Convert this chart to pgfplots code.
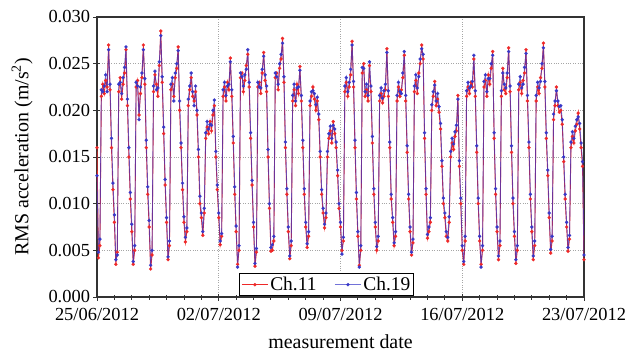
\documentclass[border=0pt]{standalone}
\usepackage{pgfplots}
\usepackage{pgfplotstable}
\pgfplotsset{compat=1.18}
\usepackage{fontspec}
\setmainfont{Liberation Serif}
\definecolor{chred}{RGB}{238,40,40}
\definecolor{chblue}{RGB}{55,55,200}
\pgfplotstableread{
h r b
0 0.0160 0.0130
2 0.0042 0.0048
4 0.0055 0.0062
6 0.0215 0.0222
8 0.0228 0.0220
10 0.0218 0.0226
12 0.0232 0.0238
14 0.0225 0.0220
16 0.0270 0.0265
18 0.0222 0.0228
20 0.0160 0.0170
22 0.0115 0.0122
24 0.0080 0.0088
26 0.0035 0.0040
28 0.0048 0.0045
30 0.0220 0.0228
32 0.0235 0.0230
34 0.0212 0.0218
36 0.0228 0.0235
38 0.0240 0.0246
40 0.0265 0.0268
42 0.0205 0.0212
44 0.0150 0.0160
46 0.0105 0.0112
48 0.0070 0.0078
50 0.0035 0.0038
52 0.0050 0.0055
54 0.0225 0.0230
56 0.0232 0.0226
58 0.0195 0.0190
60 0.0218 0.0225
62 0.0235 0.0240
64 0.0270 0.0265
66 0.0228 0.0234
68 0.0160 0.0168
70 0.0110 0.0118
72 0.0075 0.0082
74 0.0030 0.0034
76 0.0045 0.0050
78 0.0220 0.0226
80 0.0238 0.0242
82 0.0228 0.0222
84 0.0215 0.0224
86 0.0248 0.0252
88 0.0285 0.0280
90 0.0230 0.0236
92 0.0175 0.0182
94 0.0120 0.0126
96 0.0080 0.0085
98 0.0040 0.0043
100 0.0055 0.0060
102 0.0222 0.0228
104 0.0228 0.0235
106 0.0215 0.0210
108 0.0235 0.0240
110 0.0245 0.0250
112 0.0268 0.0264
114 0.0200 0.0210
116 0.0160 0.0165
118 0.0115 0.0122
120 0.0080 0.0086
122 0.0059 0.0064
124 0.0070 0.0074
126 0.0205 0.0212
128 0.0222 0.0226
130 0.0235 0.0240
132 0.0215 0.0220
134 0.0210 0.0205
136 0.0220 0.0226
138 0.0195 0.0200
140 0.0150 0.0158
142 0.0100 0.0108
144 0.0085 0.0090
146 0.0066 0.0070
148 0.0090 0.0095
150 0.0170 0.0176
152 0.0182 0.0188
154 0.0175 0.0180
156 0.0188 0.0185
158 0.0178 0.0184
160 0.0195 0.0200
162 0.0205 0.0211
164 0.0150 0.0156
166 0.0115 0.0120
168 0.0085 0.0090
170 0.0056 0.0060
172 0.0065 0.0068
174 0.0215 0.0222
176 0.0225 0.0230
178 0.0210 0.0216
180 0.0230 0.0226
182 0.0222 0.0228
184 0.0256 0.0252
186 0.0215 0.0222
188 0.0165 0.0172
190 0.0110 0.0118
192 0.0070 0.0076
194 0.0035 0.0032
196 0.0050 0.0055
198 0.0235 0.0240
200 0.0240 0.0236
202 0.0220 0.0226
204 0.0232 0.0238
206 0.0248 0.0244
208 0.0260 0.0265
210 0.0225 0.0230
212 0.0170 0.0176
214 0.0120 0.0125
216 0.0075 0.0080
218 0.0033 0.0036
220 0.0048 0.0052
222 0.0225 0.0230
224 0.0230 0.0225
226 0.0218 0.0224
228 0.0240 0.0244
230 0.0262 0.0258
232 0.0232 0.0238
234 0.0220 0.0226
236 0.0150 0.0158
238 0.0095 0.0100
240 0.0049 0.0053
242 0.0050 0.0056
244 0.0060 0.0065
246 0.0235 0.0240
248 0.0240 0.0236
250 0.0222 0.0228
252 0.0245 0.0250
254 0.0255 0.0260
256 0.0277 0.0272
258 0.0230 0.0236
260 0.0160 0.0166
262 0.0110 0.0116
264 0.0070 0.0075
266 0.0041 0.0044
268 0.0055 0.0060
270 0.0210 0.0216
272 0.0222 0.0228
274 0.0205 0.0210
276 0.0228 0.0224
278 0.0218 0.0225
280 0.0247 0.0243
282 0.0210 0.0216
284 0.0160 0.0168
286 0.0110 0.0116
288 0.0075 0.0080
290 0.0053 0.0057
292 0.0065 0.0070
294 0.0205 0.0210
296 0.0215 0.0220
298 0.0225 0.0221
300 0.0212 0.0218
302 0.0200 0.0206
304 0.0210 0.0214
306 0.0190 0.0196
308 0.0150 0.0156
310 0.0110 0.0115
312 0.0090 0.0095
314 0.0074 0.0078
316 0.0085 0.0090
318 0.0150 0.0156
320 0.0170 0.0175
322 0.0178 0.0183
324 0.0165 0.0170
326 0.0188 0.0184
328 0.0175 0.0180
330 0.0160 0.0166
332 0.0130 0.0136
334 0.0095 0.0100
336 0.0075 0.0080
338 0.0050 0.0046
340 0.0060 0.0064
342 0.0220 0.0226
344 0.0230 0.0235
346 0.0215 0.0220
348 0.0225 0.0230
350 0.0238 0.0244
352 0.0274 0.0270
354 0.0225 0.0231
356 0.0160 0.0168
358 0.0105 0.0112
360 0.0065 0.0070
362 0.0034 0.0032
364 0.0050 0.0055
366 0.0240 0.0246
368 0.0250 0.0245
370 0.0215 0.0220
372 0.0222 0.0228
374 0.0210 0.0216
376 0.0248 0.0252
378 0.0220 0.0226
380 0.0165 0.0172
382 0.0110 0.0116
384 0.0075 0.0080
386 0.0050 0.0054
388 0.0060 0.0065
390 0.0210 0.0216
392 0.0218 0.0224
394 0.0208 0.0213
396 0.0215 0.0221
398 0.0222 0.0228
400 0.0266 0.0262
402 0.0215 0.0221
404 0.0160 0.0166
406 0.0105 0.0110
408 0.0080 0.0085
410 0.0055 0.0058
412 0.0065 0.0070
414 0.0210 0.0216
416 0.0225 0.0230
418 0.0215 0.0220
420 0.0222 0.0218
422 0.0235 0.0240
424 0.0259 0.0263
426 0.0210 0.0216
428 0.0155 0.0162
430 0.0105 0.0110
432 0.0070 0.0075
434 0.0045 0.0048
436 0.0058 0.0062
438 0.0220 0.0226
440 0.0232 0.0238
442 0.0218 0.0224
444 0.0240 0.0236
446 0.0250 0.0255
448 0.0270 0.0266
450 0.0255 0.0260
452 0.0170 0.0176
454 0.0110 0.0116
456 0.0063 0.0067
458 0.0070 0.0075
460 0.0080 0.0085
462 0.0200 0.0206
464 0.0215 0.0220
466 0.0231 0.0227
468 0.0205 0.0210
470 0.0212 0.0218
472 0.0198 0.0204
474 0.0180 0.0186
476 0.0140 0.0146
478 0.0100 0.0106
480 0.0085 0.0090
482 0.0065 0.0070
484 0.0060 0.0064
486 0.0080 0.0086
488 0.0150 0.0156
490 0.0165 0.0170
492 0.0158 0.0164
494 0.0172 0.0177
496 0.0178 0.0184
498 0.0216 0.0212
500 0.0140 0.0146
502 0.0100 0.0106
504 0.0050 0.0055
506 0.0035 0.0038
508 0.0060 0.0065
510 0.0215 0.0221
512 0.0225 0.0230
514 0.0218 0.0224
516 0.0230 0.0226
518 0.0225 0.0231
520 0.0255 0.0259
522 0.0215 0.0221
524 0.0155 0.0162
526 0.0100 0.0106
528 0.0060 0.0065
530 0.0035 0.0032
532 0.0050 0.0055
534 0.0225 0.0231
536 0.0232 0.0238
538 0.0215 0.0220
540 0.0238 0.0234
542 0.0228 0.0234
544 0.0245 0.0250
546 0.0263 0.0259
548 0.0170 0.0176
550 0.0110 0.0116
552 0.0070 0.0075
554 0.0040 0.0044
556 0.0055 0.0060
558 0.0215 0.0221
560 0.0245 0.0240
562 0.0222 0.0228
564 0.0218 0.0224
566 0.0235 0.0240
568 0.0267 0.0263
570 0.0220 0.0226
572 0.0155 0.0162
574 0.0100 0.0106
576 0.0065 0.0070
578 0.0036 0.0040
580 0.0050 0.0055
582 0.0222 0.0228
584 0.0230 0.0236
586 0.0218 0.0224
588 0.0232 0.0228
590 0.0240 0.0246
592 0.0265 0.0261
594 0.0210 0.0216
596 0.0160 0.0166
598 0.0105 0.0110
600 0.0070 0.0075
602 0.0040 0.0044
604 0.0055 0.0060
606 0.0210 0.0216
608 0.0225 0.0230
610 0.0218 0.0224
612 0.0235 0.0231
614 0.0245 0.0250
616 0.0272 0.0267
618 0.0225 0.0231
620 0.0170 0.0176
622 0.0130 0.0136
624 0.0085 0.0090
626 0.0047 0.0051
628 0.0060 0.0065
630 0.0190 0.0196
632 0.0205 0.0210
634 0.0225 0.0221
636 0.0205 0.0210
638 0.0198 0.0204
640 0.0200 0.0205
642 0.0185 0.0190
644 0.0145 0.0150
646 0.0105 0.0110
648 0.0075 0.0080
650 0.0049 0.0053
652 0.0062 0.0066
654 0.0160 0.0166
656 0.0172 0.0177
658 0.0165 0.0170
660 0.0178 0.0183
662 0.0185 0.0190
664 0.0197 0.0193
666 0.0180 0.0186
668 0.0160 0.0165
670 0.0140 0.0145
672 0.0040 0.0045
}\data
\begin{document}
\begin{tikzpicture}
\begin{axis}[
  width=487bp, height=280bp, scale only axis,
  xmin=0, xmax=672, ymin=0, ymax=0.030,
  xtick={0,168,336,504,672},
  xticklabels={25/06/2012,02/07/2012,09/07/2012,16/07/2012,23/07/2012},
  minor x tick num=6,
  ytick={0,0.005,0.010,0.015,0.020,0.025,0.030},
  scaled y ticks=false,
  yticklabel style={/pgf/number format/fixed,/pgf/number format/fixed zerofill,/pgf/number format/precision=3,/pgf/number format/assume math mode=true},
  xticklabel style={yshift=-4bp},
  tick label style={font=\fontsize{18.5}{20}\selectfont},
  label style={font=\fontsize{20}{22}\selectfont},
  xlabel={measurement date},
  ylabel={RMS acceleration (m/s\textsuperscript{2})},
  xlabel style={yshift=-7bp},
  ylabel style={yshift=9bp},
  xtick pos=lower, ytick pos=left,
  tick align=center,
  major tick length=7bp, minor tick length=5bp,
  axis line style={line width=1.2bp, black!80},
  every tick/.style={black!80, line width=0.9bp},
  grid=major,
  major grid style={dotted, gray!70, line width=0.8bp},
  legend style={at={(0.472,0.003)}, anchor=south, legend columns=2,
    font=\fontsize{19.5}{20}\selectfont, draw=black, line width=1bp,
    inner sep=1.5bp, /tikz/every even column/.append style={column sep=16bp}},
  legend image code/.code={\draw[mark repeat=2,mark phase=2] plot coordinates {(0bp,0bp) (13bp,0bp) (26bp,0bp)};},
  legend cell align=left,
]
\addplot[chred, line width=0.9bp, mark=*, mark size=1.6bp, mark options={fill=chred, draw=chred, line width=0.2bp}] table[x=h, y=r]{\data};
\addlegendentry{Ch.11}
\addplot[chblue, line width=0.9bp, opacity=0.7, mark=*, mark size=1.6bp, mark options={fill=chblue, draw=chblue, opacity=1, line width=0.2bp}] table[x=h, y=b]{\data};
\addlegendentry{Ch.19}
\coordinate (O) at (rel axis cs:0,0);
\end{axis}
\path (O) ++(-97bp,-56bp) rectangle ++(631bp,353bp);
\end{tikzpicture}
\end{document}
